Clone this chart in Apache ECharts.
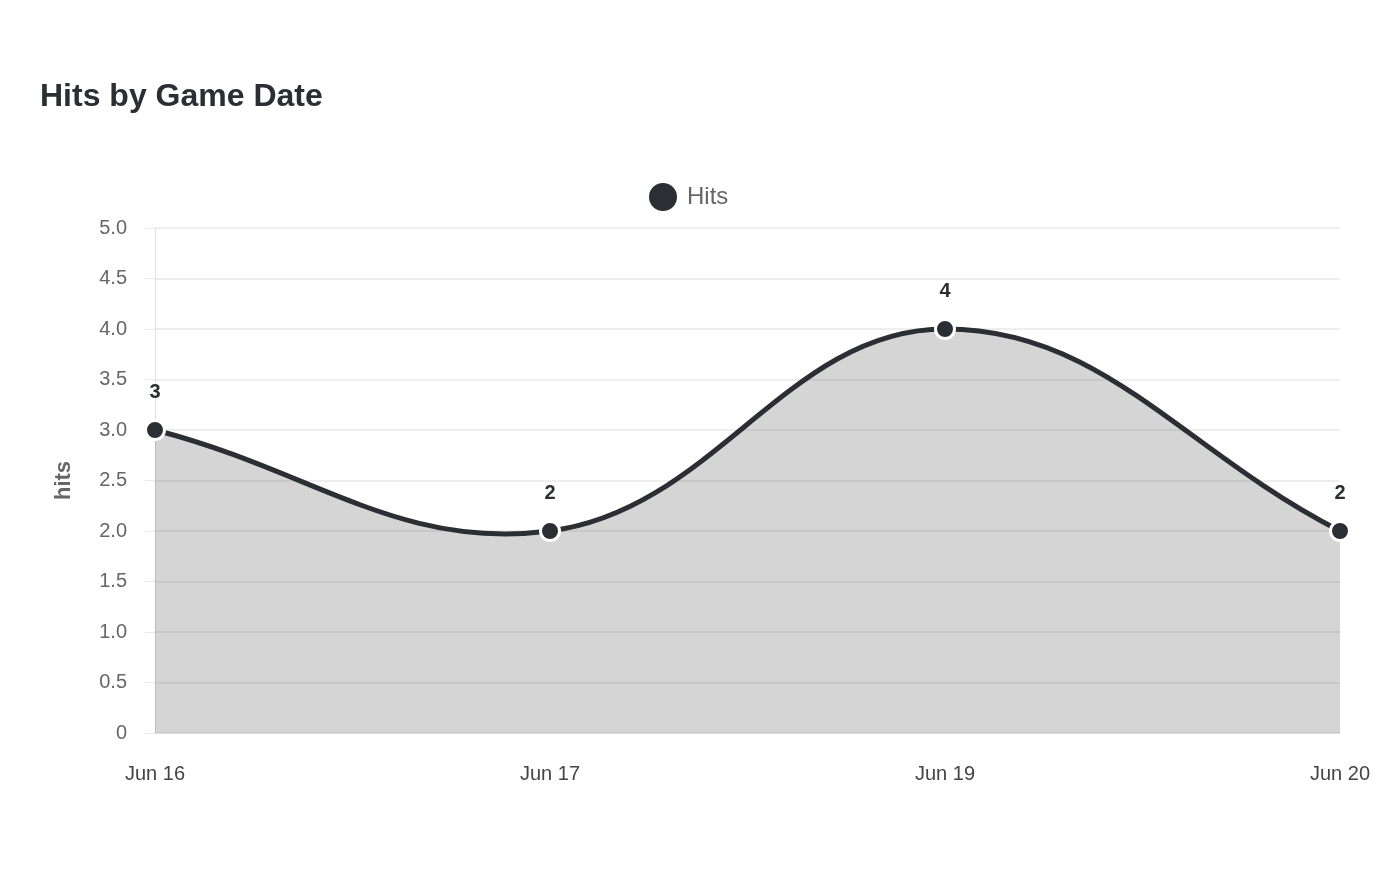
<!DOCTYPE html>
<html>
<head>
<meta charset="utf-8">
<title>Hits by Game Date</title>
<script src="https://cdn.jsdelivr.net/npm/echarts@6/dist/echarts.min.js"></script>
<style>
  html, body { margin: 0; padding: 0; background: #fff; }
  #chart { width: 1400px; height: 880px; }
</style>
</head>
<body>
<div id="chart"></div>
<script>
var gameDates = ['Jun 16', 'Jun 17', 'Jun 19', 'Jun 20'];
var hits = [3, 2, 4, 2];
var yTicks = [0, 0.5, 1, 1.5, 2, 2.5, 3, 3.5, 4, 4.5, 5];

var dark = '#2b2f33';
var font = 'Liberation Sans, Arial, sans-serif';
var tension = 0.4;

var myChart = echarts.init(document.getElementById('chart'));

// spline through the points (tangent parallel to prev->next), drawn once
function renderCurve(params, api) {
  if (params.dataIndex !== 0) return null;
  var pts = hits.map(function (v, i) { return api.coord([i, v]); });
  var base = api.coord([0, 0])[1];
  var cps = pts.map(function (p, i) {
    var prev = pts[i - 1] || p;
    var next = pts[i + 1] || p;
    var d01 = Math.hypot(p[0] - prev[0], p[1] - prev[1]);
    var d12 = Math.hypot(next[0] - p[0], next[1] - p[1]);
    var s01 = d01 / (d01 + d12) || 0;
    var s12 = d12 / (d01 + d12) || 0;
    var dx = next[0] - prev[0], dy = next[1] - prev[1];
    return {
      inX: p[0] - tension * s01 * dx, inY: p[1] - tension * s01 * dy,
      outX: p[0] + tension * s12 * dx, outY: p[1] + tension * s12 * dy
    };
  });
  var line = 'M' + pts[0][0] + ' ' + pts[0][1];
  for (var i = 1; i < pts.length; i++) {
    line += ' C' + cps[i - 1].outX + ' ' + cps[i - 1].outY + ' ' +
      cps[i].inX + ' ' + cps[i].inY + ' ' + pts[i][0] + ' ' + pts[i][1];
  }
  var last = pts[pts.length - 1];
  var area = line + ' L' + last[0] + ' ' + base + ' L' + pts[0][0] + ' ' + base + ' Z';
  return {
    type: 'group',
    children: [
      { type: 'path', shape: { pathData: area }, style: { fill: 'rgba(43,47,51,0.2)', stroke: null } },
      { type: 'path', shape: { pathData: line }, style: { fill: 'none', stroke: dark, lineWidth: 5 } }
    ]
  };
}

var option = {
  textStyle: { fontFamily: font },
  title: {
    text: 'Hits by Game Date',
    left: 35,
    top: 76,
    textStyle: { fontSize: 32, fontWeight: 'bold', color: dark, fontFamily: font }
  },
  legend: {
    top: 176,
    left: 642,
    icon: 'circle',
    itemWidth: 30,
    itemHeight: 30,
    textStyle: { fontSize: 24, color: '#666', fontFamily: font, padding: [0, 0, 0, 4] },
    data: ['Hits']
  },
  grid: {
    left: 155,
    right: 60,
    top: 228,
    bottom: 147
  },
  xAxis: {
    type: 'category',
    boundaryGap: false,
    data: gameDates,
    axisLine: { lineStyle: { color: '#e0e0e0' } },
    axisTick: { show: false },
    axisLabel: { color: '#444', fontSize: 20, margin: 31, fontFamily: font },
    splitLine: { show: false }
  },
  yAxis: {
    type: 'value',
    min: yTicks[0],
    max: yTicks[yTicks.length - 1],
    interval: 0.5,
    name: 'hits',
    nameLocation: 'middle',
    nameGap: 80,
    nameTextStyle: { color: '#666', fontSize: 22, fontWeight: 'bold', fontFamily: font },
    axisLine: { show: true, lineStyle: { color: '#e0e0e0' } },
    axisTick: { show: true, length: 10, lineStyle: { color: '#e8e8e8' } },
    axisLabel: {
      color: '#666',
      fontSize: 20,
      margin: 28,
      fontFamily: font,
      formatter: function (v) { return v === 0 ? '0' : v.toFixed(1); }
    },
    splitLine: { lineStyle: { color: '#e8e8e8', width: 1.5 } }
  },
  series: [{
    name: 'curve',
    type: 'custom',
    renderItem: renderCurve,
    data: hits.map(function (v, i) { return [i, v]; }),
    encode: { x: 0, y: 1 },
    silent: true,
    z: 1
  }, {
    name: 'Hits',
    type: 'line',
    data: hits,
    symbol: 'circle',
    symbolSize: 19,
    color: dark,
    itemStyle: { color: dark, borderColor: '#fff', borderWidth: 3 },
    lineStyle: { width: 0, opacity: 0 },
    label: {
      show: true,
      position: 'top',
      distance: 17,
      color: dark,
      fontSize: 20,
      fontWeight: 'bold',
      fontFamily: font
    },
    z: 3
  }]
};

myChart.setOption(option);
</script>
</body>
</html>
